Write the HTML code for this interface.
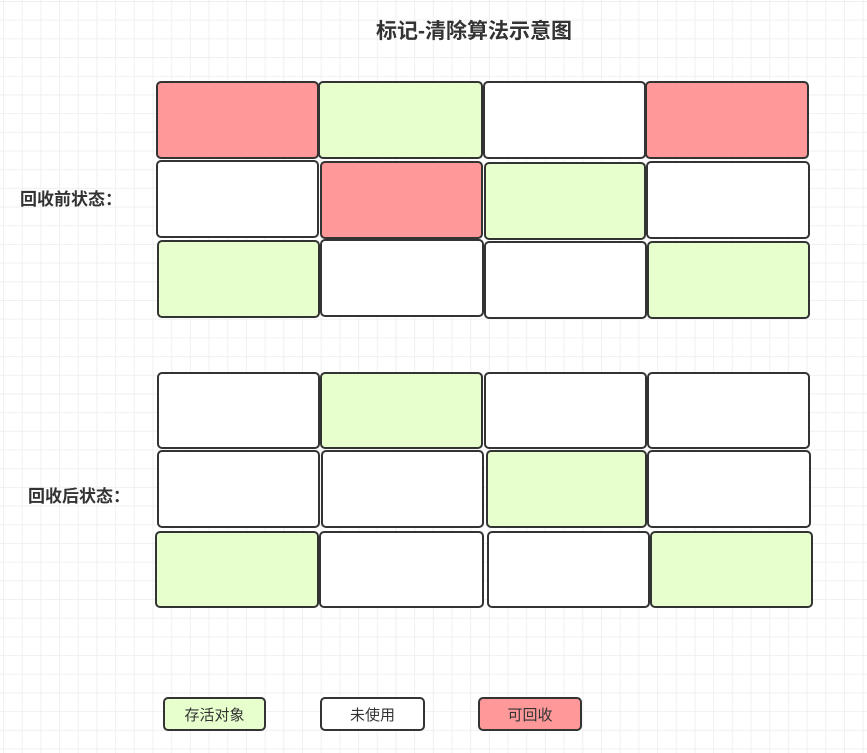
<!DOCTYPE html><html><head><meta charset="utf-8"><style>
body{margin:0;width:867px;height:753px;position:relative;overflow:hidden;background-color:#fff;
background-image:linear-gradient(#f0f0f0 1px,transparent 1px),linear-gradient(90deg,#f0f0f0 1px,transparent 1px);
background-size:18.7px 18.7px;background-position:3px 1px;font-family:"Liberation Sans","Noto Sans CJK SC",sans-serif;}
.b{position:absolute;box-sizing:border-box;border:2.5px solid #333;border-radius:5px;background:#fff}
.r{background:#FF9999}.g{background:#E6FFCC}
.t{position:absolute;font-weight:bold;color:#333}
.l{display:flex;align-items:center;justify-content:center;font-size:15px;color:#333}
</style></head><body>
<div class="t" style="left:376px;top:15px;font-size:21px">标记-清除算法示意图</div>
<div class="t" style="left:20px;top:185px;font-size:17px">回收前状态：</div>
<div class="t" style="left:28px;top:482px;font-size:17px">回收后状态：</div>

<div class="b r" style="left:156px;top:81px;width:163px;height:78px"></div>
<div class="b g" style="left:318px;top:81px;width:165px;height:78px"></div>
<div class="b" style="left:483px;top:81px;width:163px;height:78px"></div>
<div class="b r" style="left:645px;top:81px;width:164px;height:78px"></div>

<div class="b" style="left:156px;top:160px;width:163px;height:78px"></div>
<div class="b r" style="left:320px;top:161px;width:163px;height:78px"></div>
<div class="b g" style="left:484px;top:162px;width:162px;height:78px"></div>
<div class="b" style="left:646px;top:161px;width:164px;height:78px"></div>

<div class="b g" style="left:157px;top:240px;width:163px;height:78px"></div>
<div class="b" style="left:320px;top:239px;width:164px;height:78px"></div>
<div class="b" style="left:484px;top:241px;width:163px;height:78px"></div>
<div class="b g" style="left:647px;top:241px;width:163px;height:78px"></div>

<div class="b" style="left:157px;top:372px;width:163px;height:77px"></div>
<div class="b g" style="left:320px;top:372px;width:163px;height:77px"></div>
<div class="b" style="left:484px;top:372px;width:163px;height:77px"></div>
<div class="b" style="left:647px;top:372px;width:163px;height:77px"></div>

<div class="b" style="left:157px;top:450px;width:163px;height:78px"></div>
<div class="b" style="left:321px;top:450px;width:163px;height:78px"></div>
<div class="b g" style="left:486px;top:450px;width:161px;height:78px"></div>
<div class="b" style="left:647px;top:450px;width:164px;height:78px"></div>

<div class="b g" style="left:155px;top:531px;width:164px;height:77px"></div>
<div class="b" style="left:319px;top:531px;width:165px;height:77px"></div>
<div class="b" style="left:487px;top:531px;width:163px;height:77px"></div>
<div class="b g" style="left:650px;top:531px;width:163px;height:77px"></div>

<div class="b g l" style="left:163px;top:697px;width:103px;height:34px">存活对象</div>
<div class="b l" style="left:320px;top:697px;width:105px;height:34px">未使用</div>
<div class="b r l" style="left:478px;top:697px;width:104px;height:34px">可回收</div>
</body></html>
